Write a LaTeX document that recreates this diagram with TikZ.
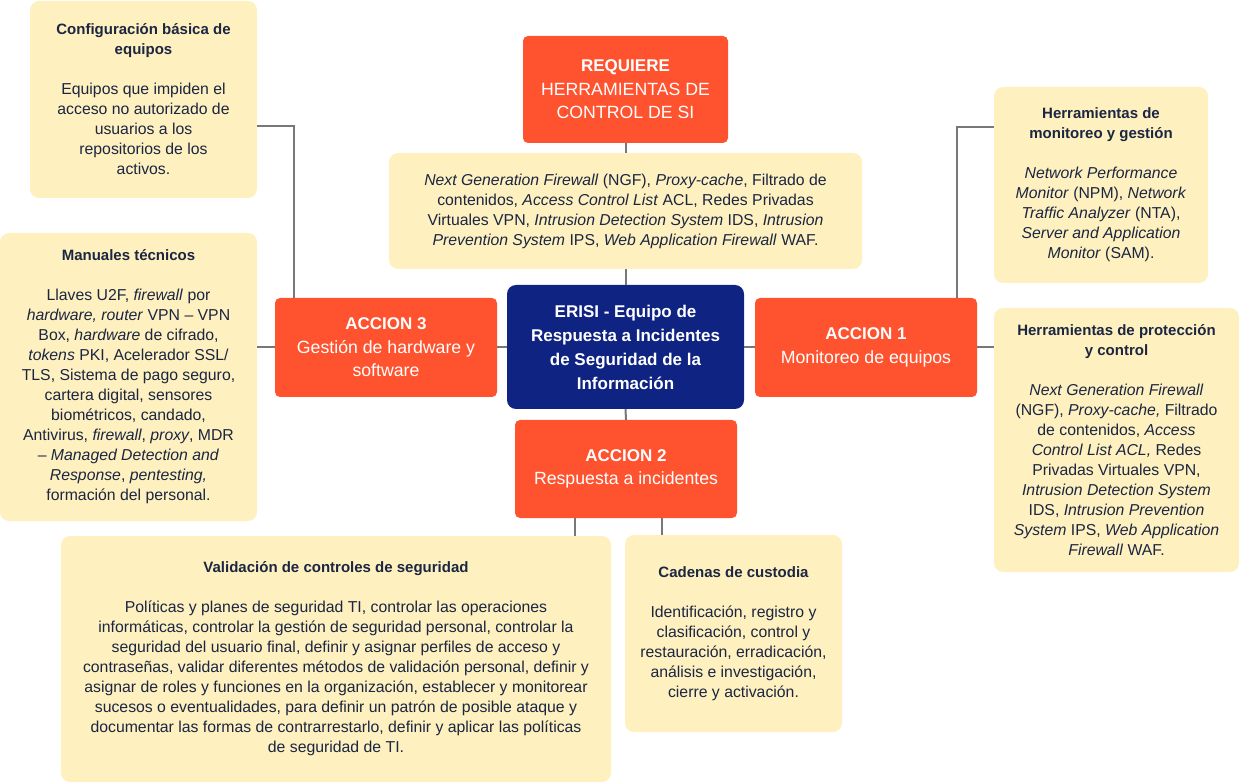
\documentclass[tikz,border=0pt]{standalone}
\usepackage{fontspec}
\setmainfont{Liberation Sans}
\definecolor{org}{RGB}{255,82,46}
\definecolor{navy}{RGB}{14,35,130}
\definecolor{ylw}{RGB}{255,240,191}
\definecolor{txt}{RGB}{26,38,66}
\definecolor{lin}{RGB}{120,120,120}
\newcommand{\tb}[1]{{\fontsize{15}{20}\selectfont\bfseries #1}}
\newcommand{\ob}[1]{{\fontsize{17}{23.5}\selectfont\bfseries #1}}
\begin{document}
\begin{tikzpicture}[x=1pt,y=-1pt,
  ybox/.style={fill=ylw, rounded corners=9pt, text=txt, align=center, inner sep=0pt, font=\fontsize{15.8}{20}\selectfont},
  obox/.style={fill=org, rounded corners=5pt, text=white, align=center, inner sep=0pt, font=\fontsize{17.7}{23.5}\selectfont},
  nbox/.style={fill=navy, rounded corners=9pt, text=white, align=center, inner sep=0pt, font=\fontsize{17}{24}\selectfont\bfseries},
  conn/.style={draw=lin, line width=2pt}]
\useasboundingbox (0,0) rectangle (1240,783);

\node[ybox, minimum width=227pt, minimum height=197pt] (tl) at (143.5,99.5)
 {\tb{Configuración básica de}\\\tb{equipos}\\[20pt]Equipos que impiden el\\acceso no autorizado de\\usuarios a los\\repositorios de los\\activos.};

\node[ybox, minimum width=257pt, minimum height=288pt] (man) at (128.5,377)
 {\tb{Manuales técnicos}\\[20pt]
 Llaves U2F, \textit{firewall} por\\
 \textit{hardware, router} VPN – VPN\\
 Box, \textit{hardware} de cifrado,\\
 \textit{tokens} PKI, Acelerador SSL/\\
 TLS, Sistema de pago seguro,\\
 cartera digital, sensores\\
 biométricos, candado,\\
 Antivirus, \textit{firewall}, \textit{proxy}, MDR\\
 – \textit{Managed Detection and}\\
 \textit{Response}, \textit{pentesting,}\\
 formación del personal.};

\node[obox, minimum width=205pt, minimum height=107pt] (req) at (625.5,89.5)
 {\ob{REQUIERE}\\HERRAMIENTAS DE\\CONTROL DE SI};

\node[ybox, minimum width=473pt, minimum height=116pt] (cy) at (625.5,211)
 {\textit{Next Generation Firewall} (NGF), \textit{Proxy-cache}, Filtrado de\\
 contenidos, \textit{Access Control List} ACL, Redes Privadas\\
 Virtuales VPN, \textit{Intrusion Detection System} IDS, \textit{Intrusion}\\
 \textit{Prevention System} IPS, \textit{Web Application Firewall} WAF.};

\node[ybox, minimum width=214pt, minimum height=196pt] (rt) at (1101,185)
 {\tb{Herramientas de}\\\tb{monitoreo y gestión}\\[20pt]
 \textit{Network Performance}\\
 \textit{Monitor} (NPM), \textit{Network}\\
 \textit{Traffic Analyzer} (NTA),\\
 \textit{Server and Application}\\
 \textit{Monitor} (SAM).};

\node[ybox, minimum width=245pt, minimum height=264pt] (rg) at (1116.5,440)
 {\tb{Herramientas de protección}\\\tb{y control}\\[20pt]
 \textit{Next Generation Firewall}\\
 (NGF), \textit{Proxy-cache,} Filtrado\\
 de contenidos, \textit{Access}\\
 \textit{Control List ACL,} Redes\\
 Privadas Virtuales VPN,\\
 \textit{Intrusion Detection System}\\
 IDS, \textit{Intrusion Prevention}\\
 \textit{System} IPS, \textit{Web Application}\\
 \textit{Firewall} WAF.};

\node[obox, minimum width=222pt, minimum height=99pt] (a3) at (386,347.5)
 {\ob{ACCION 3}\\Gestión de hardware y\\software};

\node[nbox, minimum width=237pt, minimum height=124pt] (er) at (625.5,347)
 {ERISI - Equipo de\\Respuesta a Incidentes\\de Seguridad de la\\Información};

\node[obox, minimum width=222pt, minimum height=99pt] (a1) at (866,347.5)
 {\ob{ACCION 1}\\Monitoreo de equipos};

\node[obox, minimum width=222pt, minimum height=98pt] (a2) at (626,469)
 {\ob{ACCION 2}\\Respuesta a incidentes};

\node[ybox, minimum width=550pt, minimum height=246pt] (bl) at (336,659)
 {\tb{Validación de controles de seguridad}\\[20pt]
 Políticas y planes de seguridad TI, controlar las operaciones\\
 informáticas, controlar la gestión de seguridad personal, controlar la\\
 seguridad del usuario final, definir y asignar perfiles de acceso y\\
 contraseñas, validar diferentes métodos de validación personal, definir y\\
 asignar de roles y funciones en la organización, establecer y monitorear\\
 sucesos o eventualidades, para definir un patrón de posible ataque y\\
 documentar las formas de contrarrestarlo, definir y aplicar las políticas\\
 de seguridad de TI.};

\node[ybox, minimum width=217pt, minimum height=197pt] (br) at (733.5,633.5)
 {\tb{Cadenas de custodia}\\[20pt]
 Identificación, registro y\\clasificación, control y\\restauración, erradicación,\\análisis e investigación,\\cierre y activación.};

% connectors
\coordinate (k1) at (294,126);
\coordinate (k2) at (957,127);
\coordinate (k3) at (575,0);
\coordinate (k4) at (662,0);
\draw[conn] (tl.east |- k1) -| (a3.north -| k1);
\draw[conn] (a3.west) -- (a3.west -| man.east);
\draw[conn] (a3.east) -- (er.west |- a3.east);
\draw[conn] (req.south) -- (cy.north);
\draw[conn] (cy.south) -- (er.north);
\draw[conn] (er.east |- a1.west) -- (a1.west);
\draw[conn] (a1.north -| k2) |- (rt.west |- k2);
\draw[conn] (a1.east) -- (a1.east -| rg.west);
\draw[conn] (er.south) -- (a2.north);
\draw[conn] (a2.south -| k3) -- (bl.north -| k3);
\draw[conn] (a2.south -| k4) -- (br.north -| k4);
\end{tikzpicture}
\end{document}
